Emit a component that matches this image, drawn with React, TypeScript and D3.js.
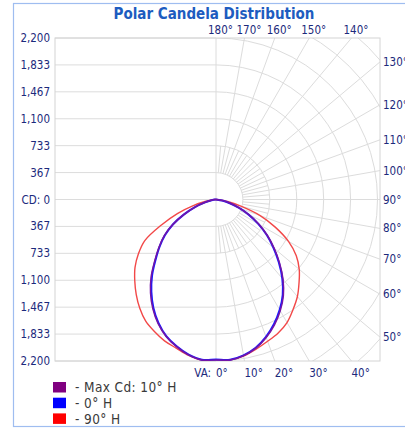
import React, { useEffect, useRef } from 'react';
import * as d3 from 'd3';

// vertical angles (deg) of the photometric readings
const vAngles = [0, 5, 10, 15, 20, 25, 30, 35, 40, 45, 50, 55, 60, 65, 70, 75, 80, 85, 90];

// candela per plane, right side / opposite plane on left side
const maxCdRight = [2185, 2195, 2160, 2095, 2000, 1885, 1750, 1600, 1420, 1225, 1035, 855, 675, 500, 340, 200, 90, 25, 0];
const maxCdLeft = [2185, 2195, 2150, 2075, 1985, 1865, 1720, 1555, 1375, 1180, 1015, 860, 680, 485, 310, 160, 65, 15, 0];
const h0Right = [2180, 2190, 2155, 2090, 1990, 1870, 1735, 1585, 1405, 1210, 1020, 845, 665, 495, 335, 195, 85, 22, 0];
const h0Left = [2180, 2190, 2145, 2070, 1980, 1855, 1705, 1535, 1355, 1165, 1005, 850, 675, 480, 305, 155, 60, 15, 0];
const h90Right = [2185, 2195, 2165, 2110, 2055, 2005, 1935, 1830, 1725, 1600, 1480, 1335, 1140, 890, 640, 350, 160, 45, 0];
const h90Left = [2185, 2195, 2155, 2095, 2050, 1985, 1915, 1810, 1690, 1565, 1440, 1290, 1120, 820, 560, 320, 140, 40, 0];

// candela grid steps and their labels
const cdTicks = [0, 366.67, 733.33, 1100, 1466.67, 1833.33, 2200];
const cdLabels = ['CD: 0', '367', '733', '1,100', '1,467', '1,833', '2,200'];
const ringValues = [366.67, 733.33, 1100, 1466.67, 1833.33, 2200, 2566.67, 2933.33, 3300];

// angle tick labels
const topTicks = [180, 170, 160, 150, 140];
const rightTicks = [130, 120, 110, 100, 90, 80, 70, 60, 50];
const bottomTicks = [0, 10, 20, 30, 40];

const legendLabels = ['- Max Cd: 10° H', '- 0° H', '- 90° H'];
const legendColors = ['#800080', '#0000ff', '#ff0000'];

const FONT = '"DejaVu Sans Condensed", "DejaVu Sans", sans-serif';

export default function App() {
  const ref = useRef<SVGSVGElement>(null);

  useEffect(() => {
    if (!ref.current) return;
    const svg = d3.select(ref.current);
    svg.selectAll('*').remove();

    const width = 405;
    const height = 429;
    const plot = { left: 55, top: 38, right: 380, bottom: 361 };
    const cx = 216;
    const cy = (plot.top + plot.bottom) / 2;

    const r = d3.scaleLinear().domain([0, 2200]).range([0, cy - plot.top]);
    const rad = (deg: number) => (deg * Math.PI) / 180;

    svg.append('rect').attr('width', width).attr('height', height).attr('fill', '#fff');

    // outer frame
    svg.append('rect')
      .attr('x', 13.5).attr('y', 3.5)
      .attr('width', 430).attr('height', 423)
      .attr('fill', 'none')
      .attr('stroke', '#9fbdf0')
      .attr('stroke-width', 1.2);

    const defs = svg.append('defs');
    defs.append('clipPath').attr('id', 'right-half')
      .append('rect')
      .attr('x', cx).attr('y', plot.top)
      .attr('width', plot.right - cx).attr('height', plot.bottom - plot.top);

    const gridColor = '#dcdcdc';

    // left half: horizontal candela lines
    const hLines = svg.append('g');
    cdTicks.forEach(v => {
      [cy - r(v), cy + r(v)].forEach(y => {
        hLines.append('line')
          .attr('x1', plot.left).attr('x2', cx)
          .attr('y1', y).attr('y2', y)
          .attr('stroke', gridColor);
      });
    });

    // right half: rings and radial lines
    const polar = svg.append('g').attr('clip-path', 'url(#right-half)');
    ringValues.forEach(v => {
      polar.append('circle')
        .attr('cx', cx).attr('cy', cy).attr('r', r(v))
        .attr('fill', 'none').attr('stroke', gridColor);
    });
    for (let a = 5; a < 180; a += 5) {
      const r0 = r(cdTicks[1]);
      const r1 = a % 10 === 0 ? 400 : r(cdTicks[2]);
      const s = Math.sin(rad(a));
      const c = Math.cos(rad(a));
      polar.append('line')
        .attr('x1', cx + r0 * s).attr('y1', cy + r0 * c)
        .attr('x2', cx + r1 * s).attr('y2', cy + r1 * c)
        .attr('stroke', gridColor);
    }

    // center vertical line + plot border
    svg.append('line')
      .attr('x1', cx).attr('x2', cx)
      .attr('y1', plot.top).attr('y2', plot.bottom)
      .attr('stroke', gridColor);
    svg.append('rect')
      .attr('x', plot.left).attr('y', plot.top)
      .attr('width', plot.right - plot.left).attr('height', plot.bottom - plot.top)
      .attr('fill', 'none').attr('stroke', '#d4d4d4');

    // curves
    const line = d3.lineRadial<[number, number]>()
      .angle(d => d[0])
      .radius(d => r(d[1]))
      .curve(d3.curveCatmullRom);

    const buildCurve = (left: number[], right: number[]) => {
      const pts: [number, number][] = [];
      for (let i = vAngles.length - 1; i >= 0; i--) pts.push([Math.PI + rad(vAngles[i]), left[i]]);
      for (let i = 1; i < vAngles.length; i++) pts.push([Math.PI - rad(vAngles[i]), right[i]]);
      return pts;
    };

    const curves = svg.append('g').attr('transform', `translate(${cx},${cy})`);
    const series = [
      { left: h90Left, right: h90Right, color: '#f24848', w: 1.4 },
      { left: h0Left, right: h0Right, color: '#1a1aff', w: 2 },
      { left: maxCdLeft, right: maxCdRight, color: '#7414a6', w: 1.5 },
    ];
    series.forEach(s => {
      curves.append('path')
        .datum(buildCurve(s.left, s.right))
        .attr('fill', 'none')
        .attr('stroke', s.color)
        .attr('stroke-width', s.w)
        .attr('d', line);
    });

    const labelColor = '#1c2a7c';
    const labels = svg.append('g')
      .style('font-family', FONT)
      .style('font-size', '11.5px')
      .attr('fill', labelColor);

    // left candela labels
    cdTicks.forEach((v, i) => {
      const ys = i === 0 ? [cy] : [cy - r(v), cy + r(v)];
      ys.forEach(y => {
        labels.append('text')
          .attr('x', 50).attr('y', y + 4)
          .attr('text-anchor', 'end')
          .text(cdLabels[i]);
      });
    });

    // angle labels
    topTicks.forEach(a => {
      const x = cx + (cy - plot.top) * Math.tan(rad(180 - a));
      labels.append('text')
        .attr('x', x - 8).attr('y', 34)
        .text(`${a}°`);
    });
    rightTicks.forEach(a => {
      const y = cy + ((plot.right - cx) * Math.cos(rad(a))) / Math.sin(rad(a));
      labels.append('text')
        .attr('x', plot.right + 3).attr('y', y + 4)
        .text(`${a}°`);
    });
    bottomTicks.forEach(a => {
      const x = cx + (plot.bottom - cy) * Math.tan(rad(a));
      labels.append('text')
        .attr('x', x).attr('y', 377)
        .text(`${a}°`);
      if (a === 0) {
        labels.append('text')
          .attr('x', x - 5).attr('y', 377)
          .attr('text-anchor', 'end')
          .text('VA:');
      }
    });

    // title
    svg.append('text')
      .attr('x', 214).attr('y', 19)
      .attr('text-anchor', 'middle')
      .style('font-family', FONT)
      .style('font-size', '15px')
      .style('font-weight', 'bold')
      .attr('fill', '#1d5cc0')
      .text('Polar Candela Distribution');

    // legend
    const legend = svg.append('g');
    legendLabels.forEach((t, i) => {
      const y = 382 + i * 15.7;
      legend.append('rect')
        .attr('x', 53).attr('y', y)
        .attr('width', 13).attr('height', 10.5)
        .attr('fill', legendColors[i]);
      legend.append('text')
        .attr('x', 75).attr('y', y + 10.3)
        .style('font-family', FONT)
        .style('font-size', '13.5px')
        .style('letter-spacing', '0.4px')
        .attr('fill', '#3a3a3a')
        .text(t);
    });
  }, []);

  return (
    <svg
      ref={ref}
      width={405}
      height={429}
      style={{ position: 'absolute', left: 0, top: 0 }}
    />
  );
}
